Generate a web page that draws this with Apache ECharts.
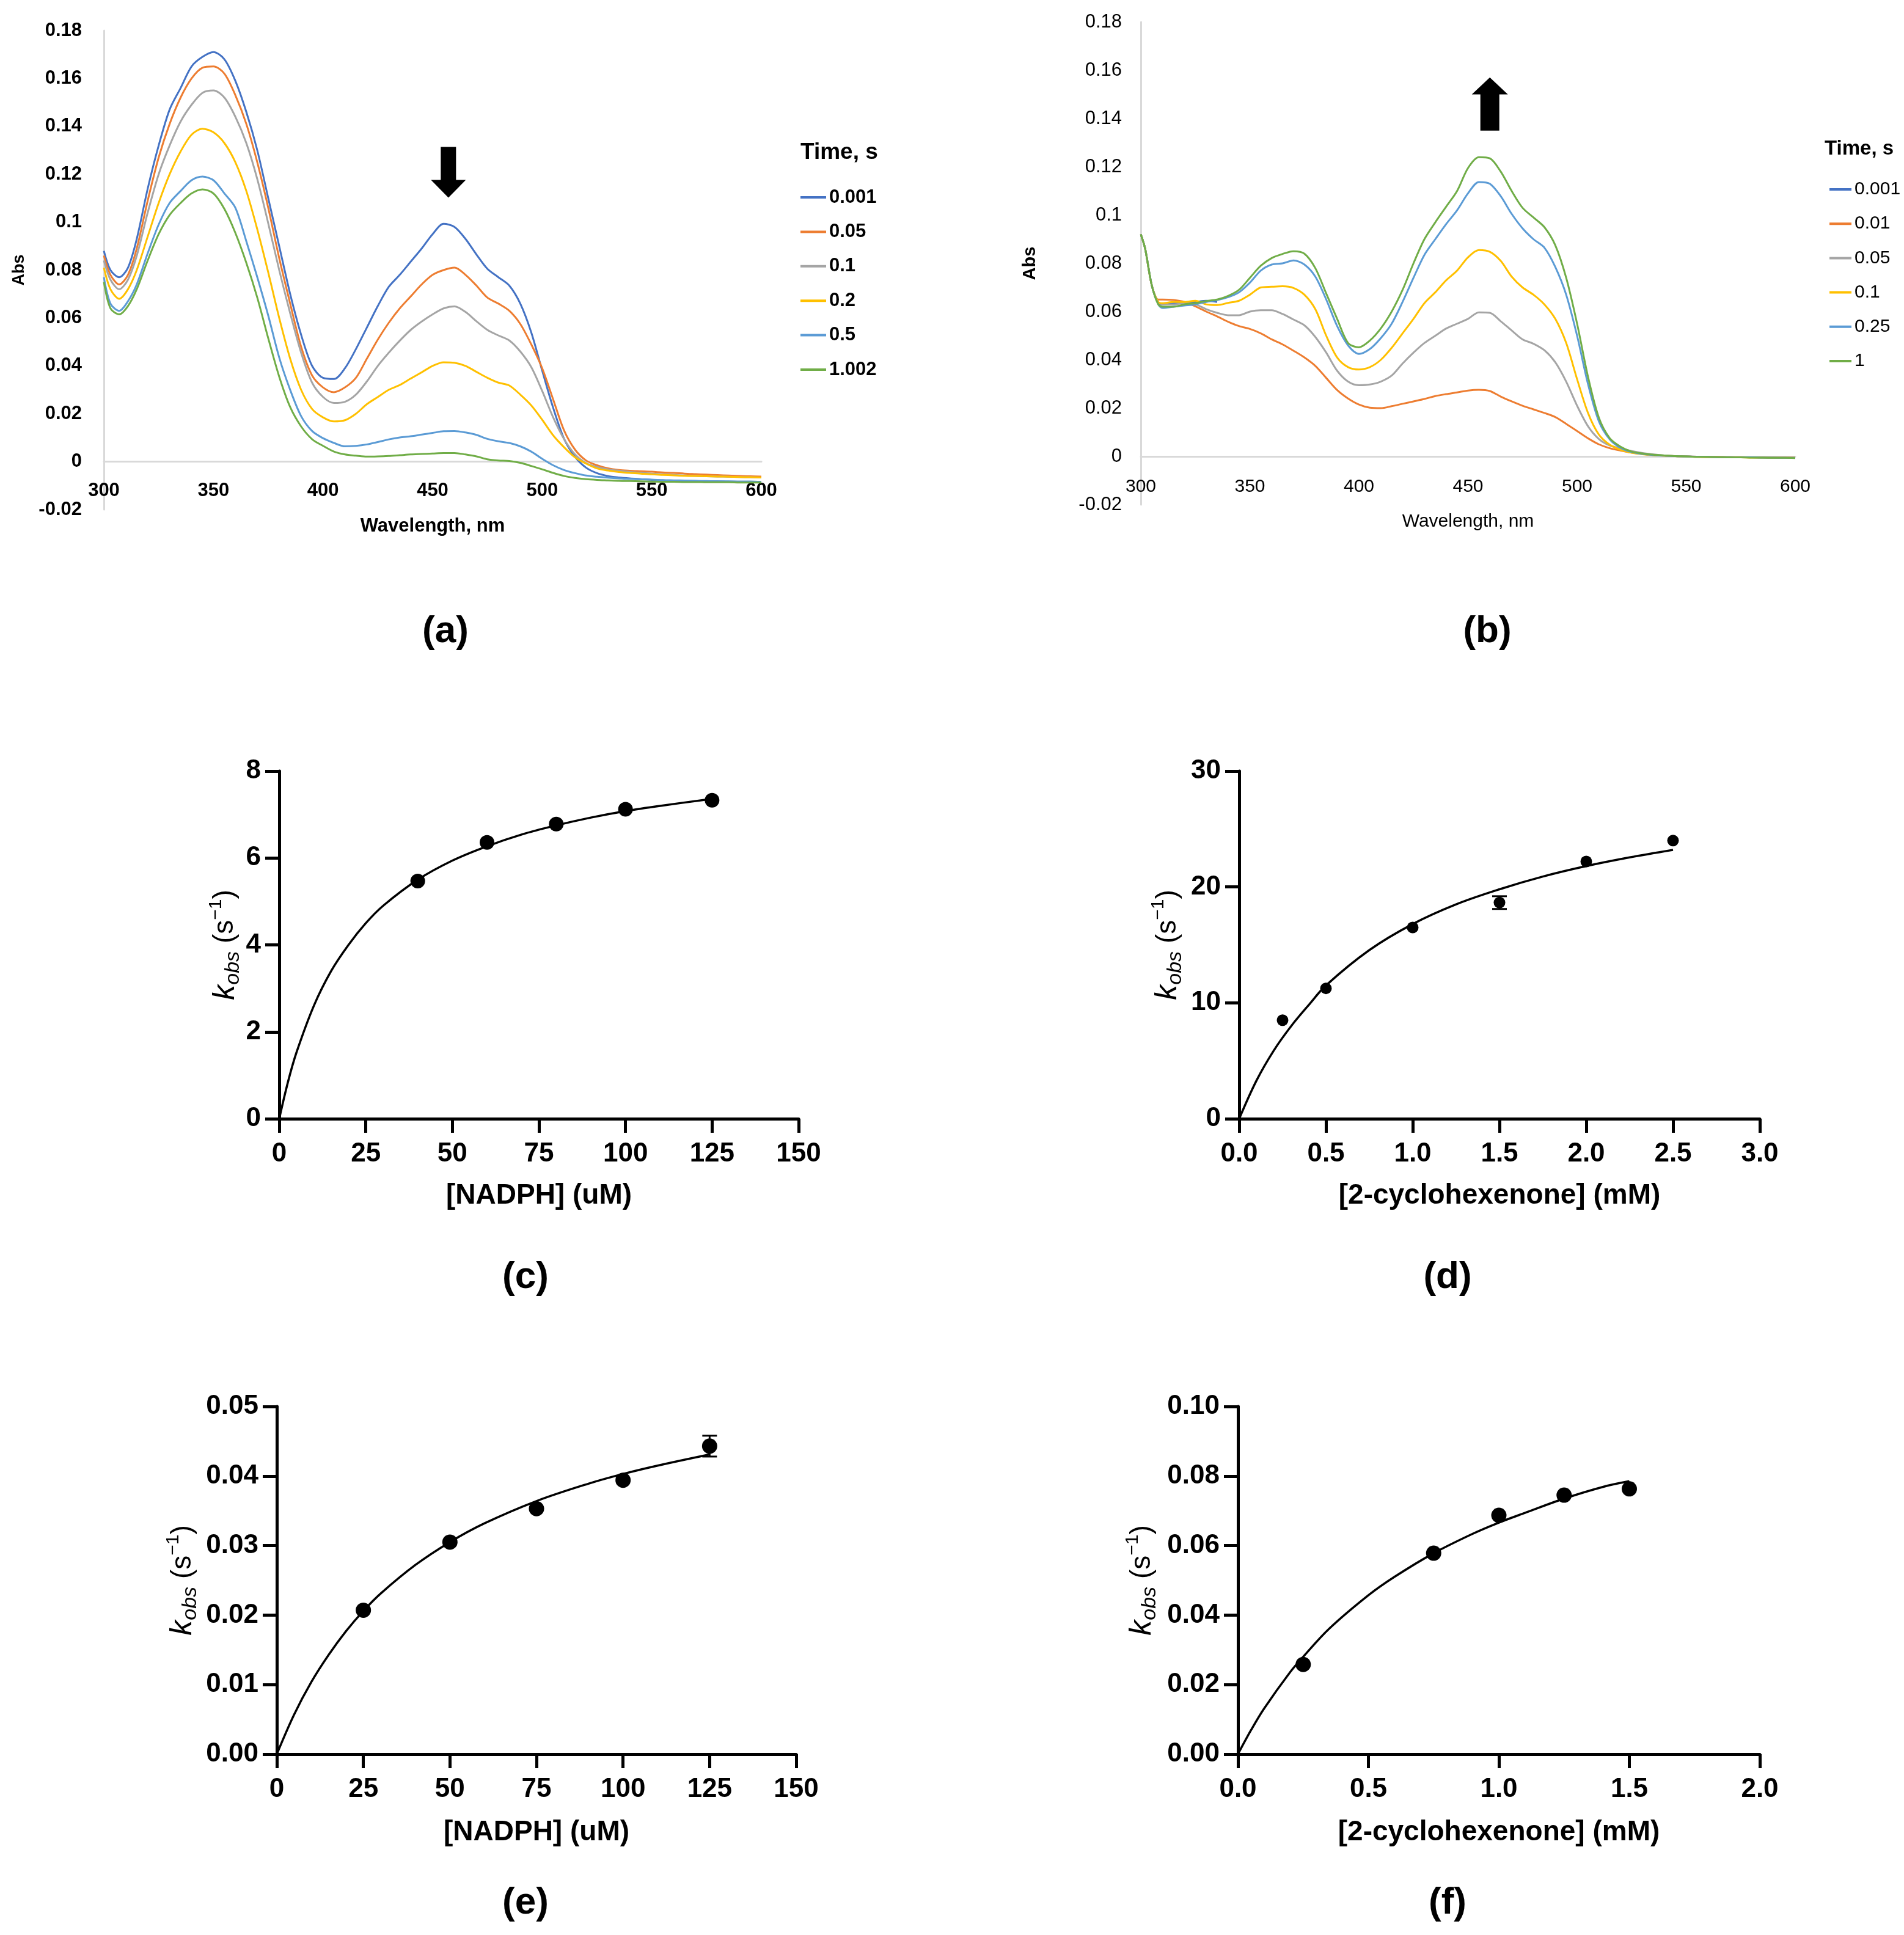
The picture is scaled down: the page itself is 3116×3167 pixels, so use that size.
<!DOCTYPE html>
<html><head><meta charset="utf-8">
<script src="https://cdn.jsdelivr.net/npm/echarts@6/dist/echarts.min.js"></script>
<style>html,body{margin:0;padding:0;background:#fff}#c{width:3116px;height:3167px}</style>
</head><body><div id="c"></div>
<script>
// ---------- Panel (a): spectra, wavelength grid ----------
const wlA = [300,303,307,311,315,320,325,330,335,340,345,350,355,360,365,370,375,380,385,390,395,400,405,410,415,420,425,430,435,440,445,450,455,460,465,470,475,480,485,490,495,500,505,510,515,520,525,530,535,540,545,550,555,560,565,570,575,580,585,590,595,600];
const a_t0001 = [0.088,0.080,0.077,0.081,0.093, 0.114,0.132,0.147,0.156,0.165,0.169,0.171,0.168,0.159,0.146,0.130,0.110,0.090,0.070,0.053,0.040,0.035, 0.0345,0.039,0.047,0.056,0.065,0.073,0.078,0.0835,0.089,0.095,0.0993,0.098,0.093,0.0865,0.0805,0.077,0.0735,0.066,0.054,0.038, 0.0225,0.0095,0.002,-0.0025,-0.0048,-0.006,-0.0066,-0.007,-0.0073,-0.0076,-0.0078,-0.008,-0.008,-0.0081,-0.0082,-0.0082,-0.0083,-0.0083,-0.0083,-0.0084];
const a_t005 = [0.086,0.078,0.074,0.078,0.089, 0.109,0.127,0.141,0.152,0.160,0.1645,0.165,0.162,0.153,0.141,0.125,0.106,0.085,0.066,0.048,0.036,0.031, 0.029,0.031,0.035,0.043,0.051,0.058,0.064,0.069,0.074,0.078,0.080,0.081,0.078,0.0735,0.0685,0.066,0.063,0.0575,0.049,0.039, 0.026,0.013,0.005,0.0005,-0.0015,-0.0028,-0.0035,-0.0038,-0.004,-0.0042,-0.0045,-0.0047,-0.005,-0.0052,-0.0054,-0.0056,-0.0058,-0.006,-0.0061,-0.0062];
const a_t01 = [0.084,0.076,0.072,0.076,0.086, 0.104,0.120,0.132,0.142,0.149,0.154,0.155,0.152,0.144,0.133,0.118,0.0995,0.080,0.062,0.0455,0.033,0.027, 0.0245,0.025,0.028,0.0335,0.040,0.0455,0.0505,0.055,0.0585,0.0615,0.064,0.0648,0.0625,0.0586,0.055,0.0527,0.0506,0.046,0.0395,0.0295, 0.0185,0.0094,0.003,-0.0006,-0.0022,-0.0032,-0.0038,-0.0043,-0.0047,-0.005,-0.0053,-0.0055,-0.0058,-0.006,-0.0061,-0.0062,-0.0063,-0.0064,-0.0065,-0.0066];
const a_t02 = [0.081,0.072,0.068,0.072,0.080, 0.094,0.108,0.120,0.1295,0.1365,0.139,0.1375,0.133,0.125,0.113,0.097,0.079,0.060,0.043,0.030,0.022,0.0185, 0.0168,0.0173,0.020,0.024,0.027,0.030,0.032,0.0347,0.0373,0.040,0.0415,0.0413,0.040,0.0375,0.035,0.033,0.0318,0.028,0.0235,0.0175, 0.011,0.006,0.0018,-0.0008,-0.0028,-0.0037,-0.0043,-0.0047,-0.005,-0.0053,-0.0055,-0.0057,-0.0059,-0.006,-0.0061,-0.0062,-0.0063,-0.0064,-0.0065,-0.0066];
const a_t05 = [0.077,0.066,0.063,0.067,0.074, 0.087,0.099,0.108,0.113,0.1175,0.119,0.1175,0.112,0.106,0.092,0.077,0.061,0.0435,0.030,0.019,0.0128,0.0098, 0.0078,0.0064,0.0066,0.0072,0.0082,0.0093,0.0101,0.0106,0.0113,0.012,0.0127,0.0128,0.0122,0.0112,0.0095,0.0085,0.0078,0.0064,0.0042,0.0012, -0.0015,-0.0035,-0.0048,-0.0058,-0.0063,-0.0067,-0.007,-0.0072,-0.0074,-0.0075,-0.0077,-0.0078,-0.0079,-0.008,-0.0081,-0.0082,-0.0082,-0.0083,-0.0083,-0.0084];
const a_t1002 = [0.075,0.064,0.0615,0.065,0.072, 0.084,0.095,0.103,0.108,0.112,0.1137,0.112,0.1055,0.0955,0.083,0.0685,0.0515,0.0355,0.0228,0.0147,0.0094,0.0066, 0.0042,0.003,0.0025,0.0021,0.0022,0.0024,0.0027,0.003,0.0032,0.0034,0.0036,0.0036,0.003,0.0022,0.001,0.0005,0.0003,-0.0005,-0.0018,-0.0032, -0.0047,-0.006,-0.0068,-0.0073,-0.0076,-0.0078,-0.008,-0.0081,-0.0082,-0.0083,-0.0084,-0.0084,-0.0085,-0.0085,-0.0086,-0.0086,-0.0086,-0.0087,-0.0087,-0.0087];
const legendA = ['0.001','0.05','0.1','0.2','0.5','1.002'];
const colorsA = ['#4472C4','#ED7D31','#A5A5A5','#FFC000','#5B9BD5','#70AD47'];

// ---------- Panel (b): spectra ----------
const wlB = [300,302,305,308,310,315,320,325,330,335,340,345,350,355,360,365,370,375,380,385,390,395,400,405,410,415,420,425,430,435,440,445,450,455,460,465,470,475,480,485,490,495,500,505,510,515,520,525,530,535,540,545,550,555,560,565,570,575,580,585,590,595,600];
const b_t0001 = [0.092,0.086,0.071,0.0635,0.063,0.0635,0.0638,0.064,0.0645,0.064];
const b_t001 = [0.092,0.086,0.071,0.065,0.065, 0.0648,0.064,0.0622,0.060,0.058,0.0558,0.054,0.0528,0.051,0.0485,0.0464,0.0438,0.041,0.0375,0.0325,0.0275,0.024,0.0215, 0.0202,0.0200,0.0208,0.0218,0.0228,0.0238,0.025,0.0258,0.0265,0.0273,0.0276,0.0271,0.0248,0.0228,0.021,0.0195,0.018,0.0163,0.0135,0.0105, 0.0075,0.005,0.0034,0.0024,0.0016,0.001,0.0006,0.0003,0.0001,0,-0.0001,-0.0002,-0.0002,-0.0003,-0.0003,-0.0004,-0.0004,-0.0005,-0.0005,-0.0005];
const b_t005 = [0.092,0.086,0.071,0.064,0.063, 0.063,0.0635,0.063,0.061,0.0595,0.0585,0.0585,0.060,0.0606,0.0606,0.059,0.0567,0.0543,0.0495,0.043,0.0355,0.031,0.0295, 0.0298,0.031,0.0335,0.0385,0.043,0.047,0.050,0.053,0.055,0.057,0.0597,0.0595,0.056,0.0522,0.0485,0.0467,0.044,0.039,0.031,0.021, 0.0125,0.0072,0.0045,0.0033,0.0022,0.0014,0.0008,0.0004,0.0001,0,-0.0002,-0.0002,-0.0003,-0.0003,-0.0004,-0.0004,-0.0005,-0.0005,-0.0005,-0.0006];
const b_t01 = [0.092,0.086,0.071,0.064,0.0635, 0.064,0.064,0.0645,0.063,0.0627,0.0636,0.0645,0.067,0.070,0.0703,0.0705,0.0698,0.067,0.061,0.050,0.041,0.037,0.036, 0.037,0.040,0.045,0.051,0.057,0.0635,0.068,0.073,0.077,0.0825,0.0855,0.0848,0.081,0.0745,0.070,0.067,0.063,0.057,0.047,0.032, 0.018,0.009,0.0048,0.0027,0.0015,0.0009,0.0005,0.0003,0.0001,0,-0.0002,-0.0003,-0.0003,-0.0004,-0.0004,-0.0005,-0.0005,-0.0005,-0.0006,-0.0006];
const b_t025 = [0.092,0.086,0.071,0.063,0.0615, 0.062,0.0625,0.063,0.064,0.0648,0.066,0.068,0.072,0.077,0.0795,0.080,0.0812,0.0795,0.0745,0.065,0.054,0.046,0.0425, 0.0445,0.049,0.055,0.064,0.074,0.0835,0.090,0.0963,0.102,0.109,0.1137,0.113,0.1078,0.1005,0.0945,0.090,0.0865,0.0785,0.067,0.050, 0.030,0.0145,0.007,0.0035,0.0018,0.001,0.0006,0.0003,0.0001,0,-0.0001,-0.0002,-0.0003,-0.0003,-0.0004,-0.0004,-0.0005,-0.0005,-0.0006,-0.0006];
const b_t1 = [0.092,0.086,0.071,0.063,0.062, 0.062,0.063,0.0635,0.0644,0.065,0.0665,0.069,0.074,0.079,0.0822,0.0839,0.085,0.084,0.078,0.0675,0.057,0.047,0.0452, 0.048,0.053,0.060,0.069,0.080,0.090,0.097,0.1035,0.110,0.1195,0.124,0.1235,0.118,0.110,0.103,0.099,0.095,0.0875,0.074,0.055, 0.033,0.016,0.0075,0.004,0.002,0.0012,0.0007,0.0004,0.0001,0,-0.0002,-0.0002,-0.0003,-0.0004,-0.0004,-0.0005,-0.0005,-0.0006,-0.0006,-0.0007];
const legendB = ['0.001','0.01','0.05','0.1','0.25','1'];
const colorsB = ['#4472C4','#ED7D31','#A5A5A5','#FFC000','#5B9BD5','#70AD47'];

// ---------- Panel (c) ----------
const cPtsX = [40,60,80,100,125];
const cPtsY = [5.47,6.36,6.78,7.12,7.33];
const cFitX = [0,2.5,5,10,15,20,25,30,40,50,60,70,80,90,100,110,125];
const cFitY = [0,0.84,1.53,2.6,3.4,4.0,4.5,4.9,5.5,5.94,6.27,6.54,6.75,6.93,7.08,7.2,7.36];
// ---------- Panel (d) ----------
const dPtsX = [0.25,0.5,1.0,1.5,2.0,2.5];
const dPtsY = [8.5,11.25,16.5,18.65,22.2,24.0];
const dErr  = [0,0,0,0.55,0,0];
const dFitX = [0,0.1,0.2,0.3,0.4,0.5,0.75,1.0,1.25,1.5,1.75,2.0,2.25,2.5];
const dFitY = [0,3.3,5.9,8.0,9.8,11.5,14.55,16.8,18.5,19.8,20.9,21.8,22.55,23.2];
// ---------- Panel (e) ----------
const ePtsX = [25,50,75,100,125];
const ePtsY = [0.0207,0.0305,0.0353,0.0394,0.0443];
const eErr  = [0,0,0,0,0.0015];
const eFitX = [0,5,10,15,20,25,30,40,50,60,75,90,100,110,125];
const eFitY = [0,0.0057,0.0104,0.0143,0.0177,0.0206,0.0231,0.0272,0.0305,0.0332,0.0364,0.0389,0.0403,0.0415,0.0431];
// ---------- Panel (f) ----------
const fPtsX = [0.25,0.75,1.0,1.25,1.5];
const fPtsY = [0.0258,0.0578,0.0687,0.0745,0.0763];
const fFitX = [0,0.05,0.1,0.2,0.25,0.35,0.5,0.6,0.75,0.9,1.0,1.1,1.25,1.4,1.5];
const fFitY = [0,0.0069,0.0131,0.0236,0.028,0.0361,0.0457,0.051,0.0578,0.0634,0.0666,0.0694,0.0735,0.0769,0.0785];

const FF = '"Liberation Sans", Arial, sans-serif';
const pairs = (xs, ys) => xs.map((x, i) => [x, ys[i]]);

const chart = echarts.init(document.getElementById('c'));

const grids = [
  {left:170, top:50, width:1076, height:784},
  {left:1867, top:36, width:1071, height:790},
  {left:457, top:1262, width:850, height:569},
  {left:2028, top:1262, width:852, height:569},
  {left:453, top:2302, width:850, height:569},
  {left:2026, top:2302, width:854, height:569}
].map(g => Object.assign({outerBoundsMode:'none', containLabel:false}, g));

function specX(gi, bold, fs, margin, gap) {
  return {gridIndex:gi, type:'value', min:300, max:600, interval:50,
    axisLine:{show:true, onZero:true, lineStyle:{color:'#D9D9D9', width:3}},
    axisTick:{show:false}, splitLine:{show:false},
    axisLabel:{margin:margin, fontSize:fs, fontWeight:bold?'bold':'normal', color:'#000', fontFamily:FF, showMinLabel:true, showMaxLabel:true},
    name:'Wavelength, nm', nameLocation:'middle', nameGap:gap,
    nameTextStyle:{fontSize:fs, fontWeight:bold?'bold':'normal', color:'#000', fontFamily:FF}};
}
function specY(gi, bold, fs, margin, gap, nfs) {
  return {gridIndex:gi, type:'value', min:-0.02, max:0.18, interval:0.02,
    axisLine:{show:true, lineStyle:{color:'#D9D9D9', width:3}},
    axisTick:{show:false}, splitLine:{show:false},
    axisLabel:{margin:margin, fontSize:fs, fontWeight:bold?'bold':'normal', color:'#000', fontFamily:FF, showMinLabel:true, showMaxLabel:true},
    name:'Abs', nameLocation:'middle', nameGap:gap,
    nameTextStyle:{fontSize:nfs, fontWeight:'bold', color:'#000', fontFamily:FF}};
}
const axLine = {show:true, onZero:true, lineStyle:{color:'#000', width:5}};
const axTick = {show:true, inside:false, length:23, lineStyle:{color:'#000', width:5}};
function kinX(gi, max, interval, dec, name, gap) {
  return {gridIndex:gi, type:'value', min:0, max:max, interval:interval,
    axisLine:axLine, axisTick:axTick, splitLine:{show:false},
    axisLabel:{margin:36, fontSize:44, fontWeight:'bold', color:'#000', fontFamily:FF, showMinLabel:true, showMaxLabel:true,
      formatter: v => dec == null ? String(v) : v.toFixed(dec)},
    name:name, nameLocation:'middle', nameGap:gap,
    nameTextStyle:{fontSize:46, fontWeight:'bold', color:'#000', fontFamily:FF}};
}
const kRich = {
  k:{fontSize:50, fontStyle:'italic', lineHeight:60, color:'#000', fontFamily:FF},
  sub:{fontSize:34, fontStyle:'italic', lineHeight:34, verticalAlign:'bottom', color:'#000', fontFamily:FF},
  t:{fontSize:46, lineHeight:60, color:'#000', fontFamily:FF},
  sup:{fontSize:30, lineHeight:30, verticalAlign:'top', color:'#000', fontFamily:FF}
};
function kinY(gi, max, interval, dec, gap) {
  return {gridIndex:gi, type:'value', min:0, max:max, interval:interval,
    axisLine:axLine, axisTick:axTick, splitLine:{show:false},
    axisLabel:{margin:30, fontSize:44, fontWeight:'bold', color:'#000', fontFamily:FF, showMinLabel:true, showMaxLabel:true,
      formatter: v => dec == null ? String(v) : v.toFixed(dec)},
    name:'{k|k}{sub|obs}{t| (s}{sup|\u22121}{t|)}', nameLocation:'middle', nameGap:gap,
    nameTextStyle:{rich:kRich, fontSize:46, color:'#000', fontFamily:FF}};
}

const series = [];
legendA.forEach((n, i) => {
  const ys = [a_t0001,a_t005,a_t01,a_t02,a_t05,a_t1002][i];
  series.push({name:'a|'+n, type:'line', xAxisIndex:0, yAxisIndex:0, data:pairs(wlA, ys),
    symbol:'none', showSymbol:false, smooth:0.3, color:colorsA[i], lineStyle:{width:3, color:colorsA[i]}, z:2+i});
});
legendB.forEach((n, i) => {
  const ys = [b_t0001,b_t001,b_t005,b_t01,b_t025,b_t1][i];
  series.push({name:'b|'+n, type:'line', xAxisIndex:1, yAxisIndex:1, data:pairs(wlB.slice(0, ys.length), ys),
    symbol:'none', showSymbol:false, smooth:0.3, color:colorsB[i], lineStyle:{width:3, color:colorsB[i]}, z:2+i});
});
function kinSeries(gi, fx, fy, px, py, err, size) {
  series.push({type:'line', xAxisIndex:gi, yAxisIndex:gi, data:pairs(fx, fy), symbol:'none', showSymbol:false, smooth:0.35,
    lineStyle:{color:'#000', width:3.5}, z:3});
  series.push({type:'scatter', xAxisIndex:gi, yAxisIndex:gi, data:pairs(px, py), symbol:'circle', symbolSize:size,
    itemStyle:{color:'#000', opacity:1}, z:5});
  if (err) {
    const eb = px.map((x, i) => [x, py[i], err[i]]).filter(d => d[2] > 0);
    series.push({type:'custom', xAxisIndex:gi, yAxisIndex:gi, data:eb, z:6,
      renderItem:(params, api) => {
        const x = api.value(0), y = api.value(1), e = api.value(2);
        const hi = api.coord([x, y + e]), lo = api.coord([x, y - e]);
        const w = 12, st = {stroke:'#000', lineWidth:3};
        return {type:'group', children:[
          {type:'line', shape:{x1:hi[0], y1:hi[1], x2:lo[0], y2:lo[1]}, style:st},
          {type:'line', shape:{x1:hi[0]-w, y1:hi[1], x2:hi[0]+w, y2:hi[1]}, style:st},
          {type:'line', shape:{x1:lo[0]-w, y1:lo[1], x2:lo[0]+w, y2:lo[1]}, style:st}
        ]};
      }});
  }
}
kinSeries(2, cFitX, cFitY, cPtsX, cPtsY, null, 24);
kinSeries(3, dFitX, dFitY, dPtsX, dPtsY, dErr, 19);
kinSeries(4, eFitX, eFitY, ePtsX, ePtsY, eErr, 25);
kinSeries(5, fFitX, fFitY, fPtsX, fPtsY, null, 25);

function txt(id, s, x, y, font, align) {
  return {id:id, type:'text', x:x, y:y, z:100,
    style:{text:s, font:font, fill:'#000', textAlign:align||'center', textVerticalAlign:'middle', align:align||'center', verticalAlign:'middle'}};
}

chart.setOption({
  animation:false,
  backgroundColor:'#fff',
  grid:grids,
  xAxis:[specX(0,true,31,-46,12), specX(1,false,30,-44,13),
    kinX(2,150,25,null,'[NADPH] (uM)',103), kinX(3,3,0.5,1,'[2-cyclohexenone] (mM)',103),
    kinX(4,150,25,null,'[NADPH] (uM)',105), kinX(5,2,0.5,1,'[2-cyclohexenone] (mM)',105)],
  yAxis:[specY(0,true,31,36,125,27), specY(1,false,31,31,167,29),
    kinY(2,8,2,null,57), kinY(3,30,10,null,87), kinY(4,0.05,0.01,2,124), kinY(5,0.10,0.02,2,127)],
  legend:[
    {data:legendA.map(n => 'a|'+n), orient:'vertical', left:1310, top:305, padding:0, itemWidth:42, itemHeight:4, itemGap:20.4,
      icon:'rect', selectedMode:false, formatter:n => n.split('|')[1],
      textStyle:{fontSize:31, fontWeight:'bold', lineHeight:36, color:'#000', fontFamily:FF}},
    {data:legendB.map(n => 'b|'+n), orient:'vertical', left:2994, top:292, padding:0, itemWidth:36, itemHeight:4, itemGap:20.2,
      icon:'rect', selectedMode:false, formatter:n => n.split('|')[1],
      textStyle:{fontSize:30, lineHeight:36, color:'#000', fontFamily:FF}}
  ],
  series:series,
  graphic:[
    txt('ta','Time, s',1310,250,'bold 37px '+FF,'left'),
    txt('tb','Time, s',2986,244,'bold 33px '+FF,'left'),
    txt('la','(a)',729,1034,'bold 62px '+FF),
    txt('lb','(b)',2434,1034,'bold 62px '+FF),
    txt('lc','(c)',860,2091,'bold 62px '+FF),
    txt('ld','(d)',2369,2091,'bold 62px '+FF),
    txt('le','(e)',860,3115,'bold 62px '+FF),
    txt('lf','(f)',2369,3115,'bold 62px '+FF)
  ]
});

// arrows anchored in data coordinates
const arrowA = {nm:457.2, top:0.1314, neck:0.1176, tip:0.1102, shaft:25, head:57};
const arrowB = {nm:460, tip:0.157, neck:0.150, bottom:0.135, shaft:31, head:59};
const pA = v => chart.convertToPixel({gridIndex:0}, [arrowA.nm, v]);
const pB = v => chart.convertToPixel({gridIndex:1}, [arrowB.nm, v]);
const aT = pA(arrowA.top), aN = pA(arrowA.neck), aP = pA(arrowA.tip);
const cxA = aT[0], sA = arrowA.shaft/2, hA = arrowA.head/2;
const bT = pB(arrowB.tip), bN = pB(arrowB.neck), bB = pB(arrowB.bottom);
const cxB = bT[0], sB = arrowB.shaft/2, hB = arrowB.head/2;
chart.setOption({graphic:[
  {id:'arrA', type:'polygon', z:100, shape:{points:[[cxA-sA,aT[1]],[cxA+sA,aT[1]],[cxA+sA,aN[1]],[cxA+hA,aN[1]],[cxA,aP[1]],[cxA-hA,aN[1]],[cxA-sA,aN[1]]]}, style:{fill:'#000'}},
  {id:'arrB', type:'polygon', z:100, shape:{points:[[cxB,bT[1]],[cxB+hB,bN[1]],[cxB+sB,bN[1]],[cxB+sB,bB[1]],[cxB-sB,bB[1]],[cxB-sB,bN[1]],[cxB-hB,bN[1]]]}, style:{fill:'#000'}}
]});
</script></body></html>
